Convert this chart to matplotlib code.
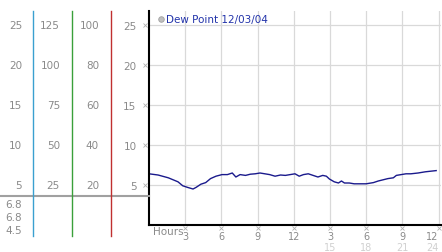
import matplotlib
matplotlib.use('Agg')
import matplotlib.pyplot as plt
import matplotlib.transforms as mtransforms

# 数据：露点（12/03/04），按小时
hours = [0, 0.75, 1.6, 2.4, 2.8, 3.2, 3.65, 3.9, 4.3, 4.7, 5.1, 5.55, 6.05,
         6.5, 6.9, 7.2, 7.55, 8.0, 8.4, 8.8, 9.2, 9.6, 10.0, 10.45, 10.9, 11.3, 11.7, 12.1,
         12.45, 12.8, 13.2, 13.6, 14.0, 14.4, 14.7, 14.95, 15.35, 15.7, 15.95, 16.2, 16.6,
         17.0, 17.4, 18.0, 18.6, 19.0, 19.4, 19.8, 20.25, 20.5, 20.9, 21.3, 21.7, 22.3,
         22.9, 23.8]
dew_point = [6.4, 6.25, 5.9, 5.4, 4.9, 4.7, 4.5, 4.7, 5.1, 5.3, 5.8, 6.1, 6.3,
             6.3, 6.5, 6.0, 6.3, 6.2, 6.35, 6.4, 6.5, 6.4, 6.3, 6.1, 6.25, 6.2, 6.3, 6.4,
             6.1, 6.3, 6.4, 6.2, 6.0, 6.2, 6.1, 5.75, 5.4, 5.25, 5.5, 5.25, 5.25,
             5.15, 5.15, 5.15, 5.3, 5.5, 5.65, 5.8, 5.9, 6.2, 6.3, 6.4, 6.4, 6.5,
             6.65, 6.8]

x_ticks = [3, 6, 9, 12, 15, 18, 21, 24]
x_labels_top = ['3', '6', '9', '12', '3', '6', '9', '12']
x_labels_bottom = ['', '', '', '', '15', '18', '21', '24']

y_ticks = [5, 10, 15, 20, 25]
col1_labels = ['5', '10', '15', '20', '25']
col2_labels = ['25', '50', '75', '100', '125']
col3_labels = ['20', '40', '60', '80', '100']
stats_labels = ['6.8', '6.8', '4.5']  # 当前 / 最高 / 最低

W, H = 442, 253
fig = plt.figure(figsize=(W / 100, H / 100), dpi=100)
fig.patch.set_facecolor('white')


def fx(px):
    return px / W


def fy(py):
    return 1 - py / H


gray = '#8a8a8a'
fs = 7.5
fs_x = 7

# 主图区域
ax = fig.add_axes([fx(149), fy(226), fx(441) - fx(149), fy(12) - fy(226)])
ax.set_xlim(0, 24.2)
ax.set_ylim(0, 26.75)
ax.plot(hours, dew_point, color='#1a1a8c', lw=1.0)

ax.set_xticks(x_ticks)
ax.set_xticklabels(x_labels_top, color=gray, fontsize=fs_x)
ax.get_xticklabels()[-1].set_horizontalalignment('right')
ax.set_yticks(y_ticks)
ax.set_yticklabels(col1_labels, color=gray, fontsize=fs)
ax.tick_params(axis='x', length=0, pad=4.5)
ax.tick_params(axis='y', length=0, pad=9)
ax.grid(True, color='#d9d9d9', lw=0.9)
ax.set_axisbelow(True)
for s in ['top', 'right']:
    ax.spines[s].set_visible(False)
for s in ['left', 'bottom']:
    ax.spines[s].set_color('black')
    ax.spines[s].set_linewidth(1.5)

# 第二行横轴标签（浅灰）
bt = mtransforms.blended_transform_factory(ax.transData, fig.transFigure)
for i, (xv, lab) in enumerate(zip(x_ticks, x_labels_bottom)):
    ha = 'right' if i == len(x_ticks) - 1 else 'center'
    ax.text(xv, fy(248), lab, transform=bt, ha=ha, va='center',
            color='#d0d0d0', fontsize=fs_x, clip_on=False)
# 刻度小记号
ax.plot(x_ticks, [fy(229)] * len(x_ticks), transform=bt, ls='none', marker='x',
        ms=2.2, mew=0.6, color='#b0b0b0', clip_on=False)
lt = mtransforms.blended_transform_factory(fig.transFigure, ax.transData)
ax.plot([fx(145)] * len(y_ticks), y_ticks, transform=lt, ls='none', marker='x',
        ms=2.2, mew=0.6, color='#b0b0b0', clip_on=False)
ax.text(fx(153), fy(232), 'Hours', transform=fig.transFigure, ha='left', va='center',
        color=gray, fontsize=fs)

# 图例
ax.plot([fx(161)], [fy(20)], transform=fig.transFigure, marker='o', ms=4,
        mfc='#c0c0c0', mec='#a0a0a0', mew=0.6, clip_on=False)
ax.text(fx(166), fy(20), 'Dew Point 12/03/04', transform=fig.transFigure,
        ha='left', va='center', color='#2233aa', fontsize=7.5)

# 左侧其它刻度栏
for yv, a, b, c in zip(y_ticks, col1_labels, col2_labels, col3_labels):
    ax.text(fx(22), yv, a, transform=lt, ha='right', va='center', color=gray, fontsize=fs)
    ax.text(fx(60), yv, b, transform=lt, ha='right', va='center', color=gray, fontsize=fs)
    ax.text(fx(99), yv, c, transform=lt, ha='right', va='center', color=gray, fontsize=fs)

for py, lab in zip([205, 218, 231.5], stats_labels):
    fig.text(fx(22), fy(py), lab, ha='right', va='center', color=gray, fontsize=fs)

fig.add_artist(plt.Line2D([0, fx(149)], [fy(197), fy(197)], color='#a0a0a0', lw=1.5))
for px, col in [(33, '#3aa0d0'), (72, '#3aa03a'), (111, '#c03030')]:
    fig.add_artist(plt.Line2D([fx(px), fx(px)], [fy(12), fy(237)], color=col, lw=1.0))

plt.savefig('out.png', dpi=100)
